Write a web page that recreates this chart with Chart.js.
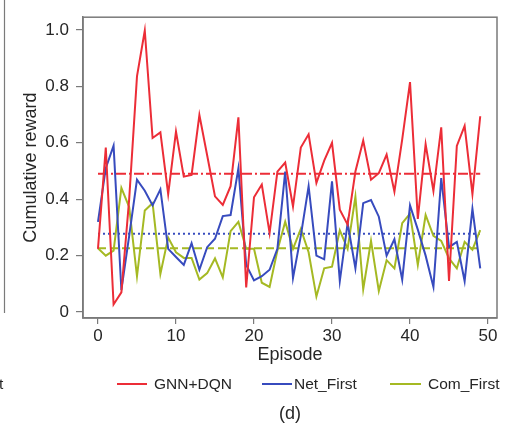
<!DOCTYPE html>
<html>
<head>
<meta charset="utf-8">
<script src="https://cdn.jsdelivr.net/npm/chart.js@4.4.1/dist/chart.umd.min.js"></script>
<style>
	html, body { margin: 0; padding: 0; background: #fff; }
	canvas { display: block; }
</style>
</head>
<body>
<canvas id="chart" width="518" height="429"></canvas>
<script>
// episodes 0..49
const episodes = Array.from({length: 50}, (_, i) => i);

const gnnDqn = [
	0.224, 0.583, 0.027, 0.07, 0.40, 0.835, 0.998, 0.617, 0.637, 0.418,
	0.64, 0.48, 0.486, 0.698, 0.555, 0.41, 0.38, 0.446, 0.69, 0.087,
	0.407, 0.452, 0.28, 0.498, 0.53, 0.374, 0.583, 0.63, 0.458, 0.537,
	0.60, 0.363, 0.31, 0.498, 0.608, 0.469, 0.492, 0.558, 0.427, 0.612,
	0.815, 0.33, 0.595, 0.429, 0.655, 0.11, 0.589, 0.66, 0.418, 0.694
];
const netFirst = [
	0.32, 0.51, 0.59, 0.078, 0.27, 0.469, 0.43, 0.378, 0.435, 0.224,
	0.195, 0.167, 0.244, 0.15, 0.23, 0.26, 0.34, 0.344, 0.509, 0.167,
	0.112, 0.127, 0.15, 0.224, 0.498, 0.121, 0.27, 0.446, 0.2, 0.187,
	0.463, 0.11, 0.315, 0.155, 0.386, 0.397, 0.338, 0.2, 0.258, 0.115,
	0.378, 0.292, 0.2, 0.089, 0.475, 0.23, 0.249, 0.11, 0.366, 0.155
];
const comFirst = [
	0.226, 0.2, 0.218, 0.44, 0.372, 0.127, 0.36, 0.386, 0.135, 0.264,
	0.212, 0.192, 0.192, 0.115, 0.138, 0.19, 0.123, 0.287, 0.32, 0.224,
	0.224, 0.104, 0.089, 0.218, 0.32, 0.224, 0.295, 0.212, 0.055, 0.155,
	0.161, 0.29, 0.224, 0.409, 0.081, 0.252, 0.075, 0.184, 0.155, 0.315,
	0.349, 0.167, 0.344, 0.27, 0.252, 0.19, 0.155, 0.249, 0.221, 0.29
];

// average reward of each method
const means = [0.49, 0.278, 0.226];

const seriesNames = ['GNN+DQN', 'Net_First', 'Com_First'];
const colors = ['rgb(236,45,55)', 'rgb(55,75,190)', 'rgb(165,185,35)'];
const meanDash = [[10, 3, 2, 3], [2, 3], [8, 4]];

const xTicks = [0, 10, 20, 30, 40, 50];
const yTicks = [0, 0.2, 0.4, 0.6, 0.8, 1.0];

const axisGray = '#7a7a7a';
const textColor = '#262626';
const fontFamily = "Arial, 'Liberation Sans', sans-serif";

const toPoints = values => values.map((v, i) => ({x: episodes[i], y: v}));
const meanPoints = v => [{x: episodes[0], y: v}, {x: episodes[episodes.length - 1], y: v}];

const series = [gnnDqn, netFirst, comFirst];
const datasets = [];
series.forEach((values, i) => {
	datasets.push({
		label: seriesNames[i],
		data: toPoints(values),
		borderColor: colors[i],
		borderWidth: 2,
		pointRadius: 0,
		tension: 0,
	});
});
means.forEach((m, i) => {
	datasets.push({
		label: seriesNames[i] + ' mean',
		data: meanPoints(m),
		borderColor: colors[i],
		borderWidth: 2,
		borderDash: meanDash[i],
		pointRadius: 0,
	});
});

// frame, legend, caption and the edge of the neighbouring panel
const decorations = {
	id: 'decorations',
	afterDraw: (chart) => {
		const ctx = chart.ctx;
		const area = chart.chartArea;
		ctx.save();
		ctx.strokeStyle = axisGray;
		ctx.lineWidth = 1.5;
		ctx.strokeRect(area.left, area.top, area.right - area.left, area.bottom - area.top);

		ctx.beginPath();
		ctx.moveTo(4.5, 0);
		ctx.lineTo(4.5, 313);
		ctx.lineWidth = 1.2;
		ctx.stroke();

		ctx.font = '15.5px ' + fontFamily;
		ctx.fillStyle = textColor;
		ctx.textBaseline = 'middle';
		ctx.textAlign = 'left';
		ctx.fillText('t', -1, 385);

		const legendY = 384;
		const items = [
			{line: [117, 147], text: 154},
			{line: [262, 292], text: 294},
			{line: [390, 421], text: 428},
		];
		items.forEach((it, i) => {
			ctx.beginPath();
			ctx.strokeStyle = colors[i];
			ctx.lineWidth = 2;
			ctx.moveTo(it.line[0], legendY);
			ctx.lineTo(it.line[1], legendY);
			ctx.stroke();
			ctx.fillText(seriesNames[i], it.text, legendY + 1);
		});

		ctx.font = '18px ' + fontFamily;
		ctx.textAlign = 'center';
		ctx.fillText('(d)', 290, 414);
		ctx.restore();
	}
};

const chart = new Chart(document.getElementById('chart').getContext('2d'), {
	type: 'line',
	data: {datasets: datasets},
	options: {
		responsive: false,
		animation: false,
		events: [],
		layout: {padding: {left: 0, right: 21, top: 7, bottom: 63}},
		scales: {
			x: {
				type: 'linear',
				min: -1.92,
				max: 51.15,
				afterFit: (scale) => { scale.height = 48; },
				afterBuildTicks: (scale) => { scale.ticks = xTicks.map(v => ({value: v})); },
				ticks: {
					color: textColor,
					font: {family: fontFamily, size: 17},
					padding: 2,
					maxRotation: 0,
					autoSkip: false,
				},
				grid: {drawOnChartArea: false, tickLength: 6, color: axisGray, lineWidth: 1.2},
				border: {display: true, color: axisGray, width: 1.5},
				title: {
					display: true,
					text: 'Episode',
					color: textColor,
					font: {family: fontFamily, size: 18},
					padding: {top: 0, bottom: 0},
				},
			},
			y: {
				min: -0.021,
				max: 1.045,
				afterFit: (scale) => { scale.width = 83; },
				afterBuildTicks: (scale) => { scale.ticks = yTicks.map(v => ({value: v})); },
				ticks: {
					color: textColor,
					font: {family: fontFamily, size: 17},
					padding: 7,
					callback: (v) => v === 0 ? '0' : v.toFixed(1),
				},
				grid: {drawOnChartArea: false, tickLength: 7, color: axisGray, lineWidth: 1.2},
				border: {display: true, color: axisGray, width: 1.5},
				title: {
					display: true,
					text: 'Cumulative reward',
					color: textColor,
					font: {family: fontFamily, size: 18},
					padding: {top: 20, bottom: 0},
				},
			},
		},
		plugins: {
			legend: {display: false},
			title: {display: false},
			tooltip: {enabled: false},
		},
	},
	plugins: [decorations],
});
</script>
</body>
</html>
